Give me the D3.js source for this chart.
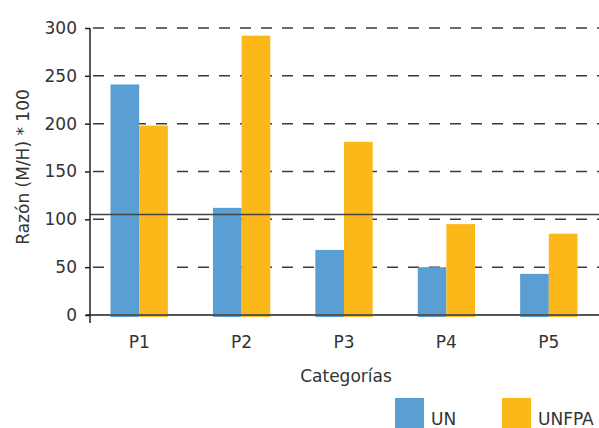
<!DOCTYPE html>
<html>
<head>
<meta charset="utf-8">
<script src="https://cdn.jsdelivr.net/npm/d3@7"></script>
<style>
    body { margin: 0; background: #fff; }
    svg text { font-family: "DejaVu Sans", Verdana, sans-serif; fill: #333; }
</style>
</head>
<body>
<svg width="599" height="428"></svg>
<script>
/***************************************************************
    Data
****************************************************************/
const categories = ["P1", "P2", "P3", "P4", "P5"];
const seriesNames = ["UN", "UNFPA"];
const unValues = [241, 112, 68, 50, 43];
const unfpaValues = [198, 292, 181, 95, 85];
const yTicks = [0, 50, 100, 150, 200, 250, 300];
const refValue = 105;
const colors = ["#5a9fd4", "#fbb818"];

/***************************************************************
    Chart
****************************************************************/
const svg = d3.select("svg");

const x = d3.scaleBand().domain(categories).range([88, 600]).paddingInner(0.44).paddingOuter(0.22);
const xs = d3.scaleBand().domain(seriesNames).range([0, x.bandwidth()]);
const y = d3.scaleLinear().domain([0, 300]).range([315, 28]);

// dashed gridlines
svg.append("g").selectAll("line").data(yTicks.filter(d => d > 0)).enter().append("line")
    .attr("x1", 90).attr("x2", 599)
    .attr("y1", d => y(d)).attr("y2", d => y(d))
    .attr("stroke", "#3a3a3a").attr("stroke-width", 1.5)
    .attr("stroke-dasharray", "11,10").attr("stroke-dashoffset", -3);

// bars
const rows = categories.map((c, i) => ({ cat: c, vals: [unValues[i], unfpaValues[i]] }));
svg.append("g").selectAll("g").data(rows).enter().append("g")
    .attr("transform", d => "translate(" + x(d.cat) + ",0)")
    .selectAll("rect").data(d => d.vals.map((v, j) => ({ name: seriesNames[j], v: v, j: j }))).enter().append("rect")
    .attr("x", d => xs(d.name))
    .attr("width", xs.bandwidth())
    .attr("y", d => y(d.v))
    .attr("height", d => y(0) - y(d.v) + 2)
    .attr("fill", d => colors[d.j]);

// baseline
svg.append("line").attr("x1", 86).attr("x2", 599).attr("y1", y(0)).attr("y2", y(0))
    .attr("stroke", "#555").attr("stroke-width", 2);

// reference line
svg.append("line").attr("x1", 90).attr("x2", 599).attr("y1", y(refValue)).attr("y2", y(refValue))
    .attr("stroke", "#444").attr("stroke-width", 1.5);

// y axis
const yAxis = svg.append("g").attr("transform", "translate(90,0)")
    .call(d3.axisLeft(y).tickValues(yTicks).tickSize(5).tickPadding(8));
yAxis.select(".domain").remove();
yAxis.selectAll(".tick line").attr("stroke", "#222").attr("stroke-width", 1.5);
yAxis.selectAll("text").attr("font-size", 17).style("fill", "#333");
svg.append("line").attr("x1", 90).attr("x2", 90).attr("y1", 28).attr("y2", 323)
    .attr("stroke", "#222").attr("stroke-width", 1.5);

// x labels
svg.append("g").selectAll("text").data(categories).enter().append("text")
    .attr("x", d => x(d) + x.bandwidth() / 2)
    .attr("y", 348)
    .attr("text-anchor", "middle")
    .attr("font-size", 17)
    .text(d => d);

svg.append("text").attr("x", 346).attr("y", 382).attr("text-anchor", "middle")
    .attr("font-size", 17).text("Categorías");

svg.append("text").attr("transform", "translate(29,167) rotate(-90)")
    .attr("text-anchor", "middle").attr("font-size", 17).text("Razón (M/H) * 100");

// legend
const legendX = [395, 502];
const legend = svg.append("g").selectAll("g").data(seriesNames).enter().append("g")
    .attr("transform", (d, i) => "translate(" + legendX[i] + ",398)");
legend.append("rect").attr("width", 29).attr("height", 30).attr("fill", (d, i) => colors[i]);
legend.append("text").attr("x", 36).attr("y", 27).attr("font-size", 17).text(d => d);
</script>
</body>
</html>
